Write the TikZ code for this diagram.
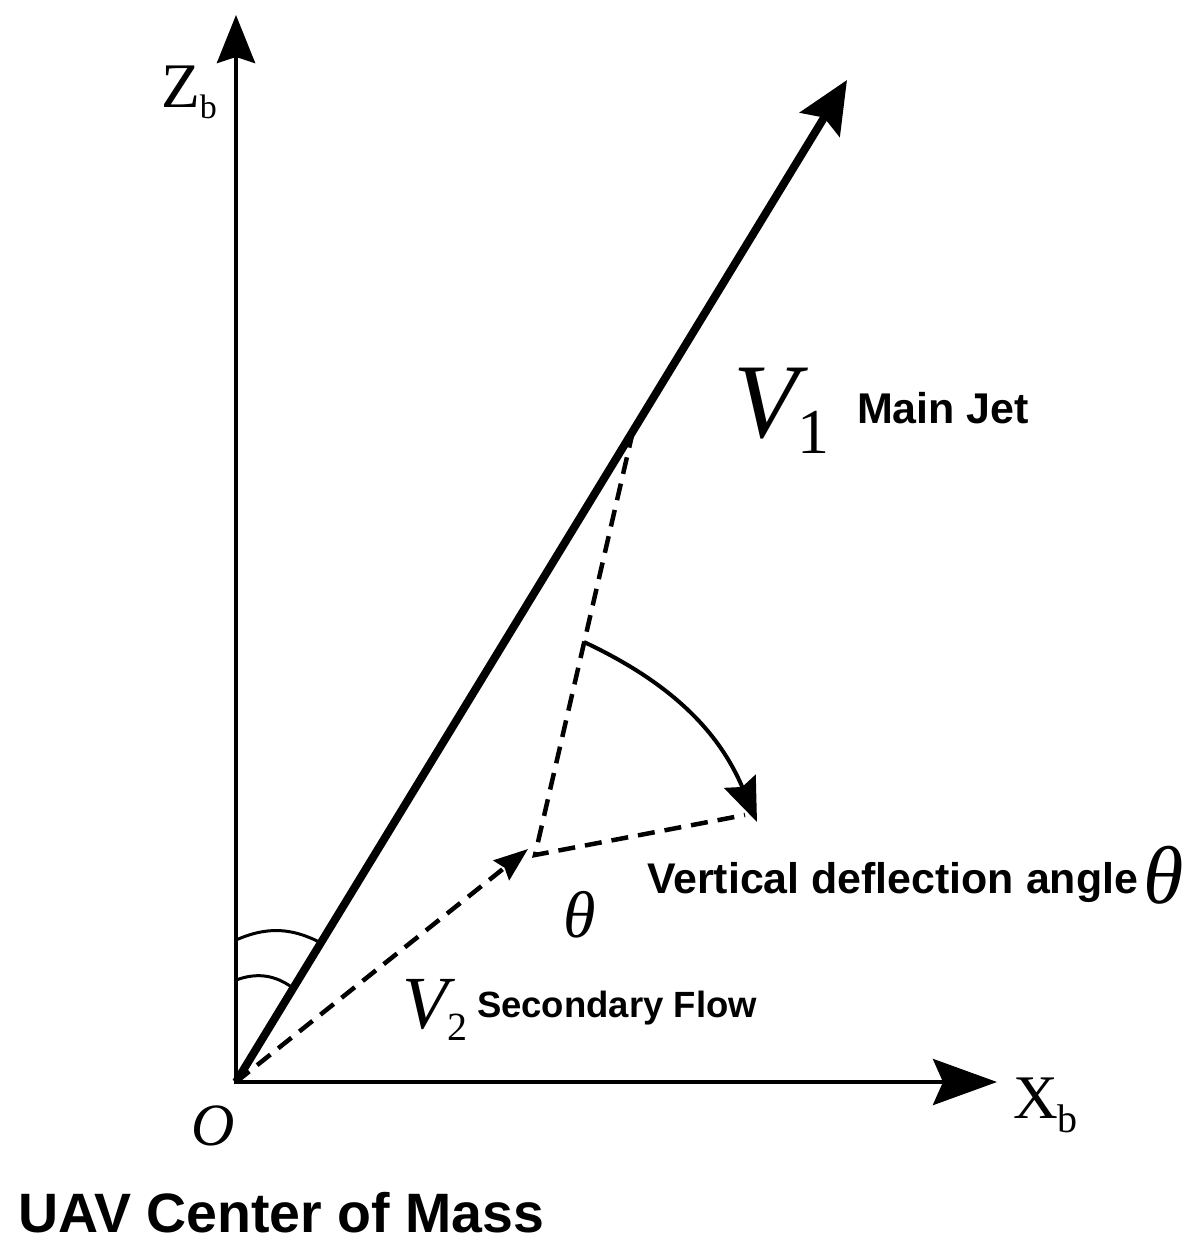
\documentclass[tikz,border=0pt]{standalone}
\usepackage{fontspec}
\setmainfont{Liberation Serif}
\newfontfamily\arialfont{Liberation Sans}
\usetikzlibrary{arrows.meta}
\begin{document}
\begin{tikzpicture}[x=1pt,y=1pt,
  axisline/.style={line width=4.5pt},
  jetline/.style={line width=8pt},
  dshline/.style={line width=4.5pt, dash pattern=on 17pt off 10pt},
  arcline/.style={line width=3pt},
  lbl/.style={inner sep=0pt, outer sep=0pt, anchor=base west},
  sanslbl/.style={lbl, font=\arialfont\bfseries},
]
\useasboundingbox (0,0) rectangle (1201,-1256);
\fill[white] (0,0) rectangle (1201,-1256);
% key points
\coordinate (O) at (236,-1082);
\coordinate (Obase) at (236,-1084);
\coordinate (Ztip) at (236,-15);
\coordinate (Xtip) at (997,-1082);
\coordinate (Xbase) at (234,-1082);
\coordinate (V1tip) at (847,-80);
\coordinate (P1) at (633,-431);
\coordinate (M) at (535,-855);
\coordinate (Q) at (584,-642);
\coordinate (P3) at (745,-815);
\coordinate (R) at (757,-822);
\coordinate (V2tip) at (528,-849);
\coordinate (A1s) at (236,-940);
\coordinate (A1e) at (321,-943);
\coordinate (A2s) at (236,-980);
\coordinate (A2e) at (293,-988);
% axes
\draw[axisline,-{Stealth[length=48pt,width=38pt,inset=6pt]}] (Obase) -- (Ztip);
\draw[axisline,-{Stealth[length=64pt,width=46pt,inset=10pt]}] (Xbase) -- (Xtip);
% angle arcs
\draw[arcline] (A1s) to[bend left=26] (A1e);
\draw[arcline] (A2s) to[bend left=28] (A2e);
% main jet
\draw[jetline,-{Stealth[length=52pt,width=46pt,inset=8pt]}] (O) -- (V1tip);
% secondary flow
\draw[dshline,-{Stealth[length=34pt,width=25pt,inset=4pt]}] (O) -- (V2tip);
% dashed construction
\draw[dshline] (P1) -- (M) -- (P3);
% deflection arrow
\draw[line width=4pt,-{Stealth[length=44pt,width=34pt,inset=6pt]}] (Q) to[bend left=21] (R);
% labels
\node[lbl] (zl) at (161,-107) {\fontsize{63.5pt}{64pt}\selectfont Z\raisebox{-11pt}{\fontsize{34pt}{34pt}\selectfont b}};
\node[lbl] (xl) at (1013,-1118) {\fontsize{62pt}{62pt}\selectfont X\raisebox{-14pt}{\fontsize{40pt}{40pt}\selectfont b}};
\node[lbl] (ol) at (191,-1145) {\fontsize{60pt}{60pt}\selectfont\itshape O};
\node[lbl] (v1l) at (733,-437) {\fontsize{106pt}{106pt}\selectfont\itshape V\upshape\raisebox{-16pt}{\fontsize{64pt}{64pt}\selectfont 1}};
\node[sanslbl] (mj) at (857,-423) {\fontsize{43pt}{43pt}\selectfont Main Jet};
\node[lbl] (v2l) at (402,-1028) {\fontsize{75pt}{75pt}\selectfont\itshape V\upshape\raisebox{-12pt}{\fontsize{40pt}{40pt}\selectfont 2}};
\node[sanslbl] (sf) at (477,-1017) {\fontsize{36.5pt}{37pt}\selectfont Secondary Flow};
\node[lbl] (th1) at (563,-937) {\fontsize{66pt}{66pt}\selectfont\itshape θ};
\node[sanslbl] (vd) at (647,-893) {\fontsize{42.9pt}{43pt}\selectfont Vertical deflection angle};
\node[lbl] (th2) at (1143,-903) {\fontsize{82pt}{82pt}\selectfont\itshape θ};
\node[sanslbl] (uav) at (18,-1232) {\fontsize{55.5pt}{56pt}\selectfont UAV Center of Mass};
\end{tikzpicture}
\end{document}
